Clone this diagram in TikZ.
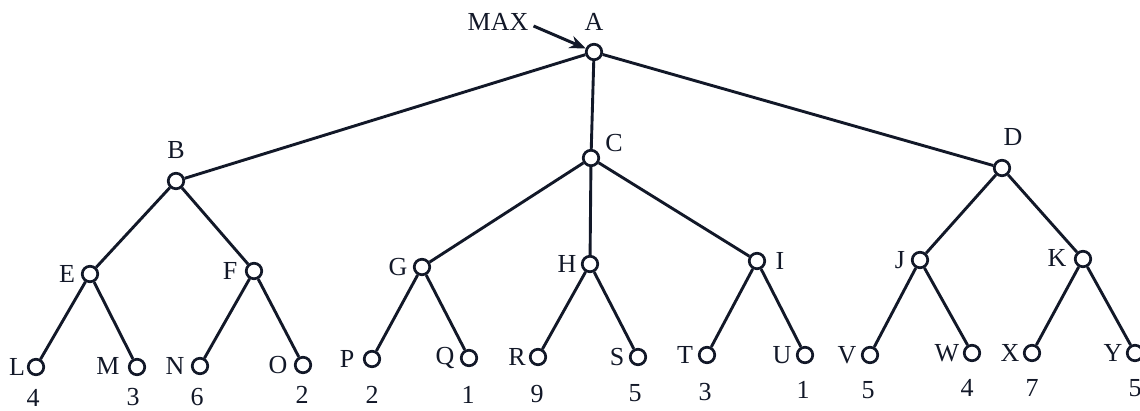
\documentclass[tikz,border=0pt]{standalone}
\usepackage{fontspec}
\setmainfont{Liberation Serif}
\usetikzlibrary{arrows.meta}
\definecolor{ink}{RGB}{18,24,40}
\begin{document}
\begin{tikzpicture}[x=1pt,y=-1pt,
  vert/.style={circle,draw=ink,fill=white,line width=2.7pt,minimum size=15.5pt,inner sep=0pt},
  lbl/.style={text=ink,font=\fontsize{26}{26}\selectfont,inner sep=0pt},
  edge/.style={draw=ink,line width=2.9pt},
  pointer/.style={draw=ink,line width=3pt,-{Stealth[length=16pt,width=13pt]}}]
\useasboundingbox (0,0) rectangle (1140,411);

% vertices of the game tree
\node[vert] (A) at (594,52) {};
\node[vert] (B) at (176,181) {};
\node[vert] (C) at (591,158) {};
\node[vert] (D) at (1002,168) {};
\node[vert] (E) at (90,274) {};
\node[vert] (F) at (254,271) {};
\node[vert] (G) at (422,267) {};
\node[vert] (H) at (590,264) {};
\node[vert] (I) at (757,261) {};
\node[vert] (J) at (920,260) {};
\node[vert] (K) at (1083,259) {};
\node[vert] (L) at (36,367) {};
\node[vert] (M) at (137,367) {};
\node[vert] (N) at (200,366) {};
\node[vert] (O) at (303,365) {};
\node[vert] (P) at (372,359) {};
\node[vert] (Q) at (469,358) {};
\node[vert] (R) at (538,357) {};
\node[vert] (S) at (638,357) {};
\node[vert] (T) at (707,355) {};
\node[vert] (U) at (805,355) {};
\node[vert] (V) at (870,355) {};
\node[vert] (W) at (972,353) {};
\node[vert] (X) at (1032,353) {};
\node[vert] (Y) at (1135,353) {};

% branches
\foreach \p/\c in {A/B,A/C,A/D,B/E,B/F,C/G,C/H,C/I,D/J,D/K,
                   E/L,E/M,F/N,F/O,G/P,G/Q,H/R,H/S,I/T,I/U,J/V,J/W,K/X,K/Y}
  \draw[edge] (\p) -- (\c);

% vertex names
\node[lbl] (tA) at (594,22) {A};
\node[lbl] (tB) at (176,150) {B};
\node[lbl] (tC) at (614,143) {C};
\node[lbl] (tD) at (1013,137) {D};
\node[lbl] (tE) at (67,274) {E};
\node[lbl] (tF) at (230,271) {F};
\node[lbl] (tG) at (398,267) {G};
\node[lbl] (tH) at (567,264) {H};
\node[lbl] (tI) at (780,261) {I};
\node[lbl] (tJ) at (900,260) {J};
\node[lbl] (tK) at (1057,258) {K};
\node[lbl] (tL) at (17,367) {L};
\node[lbl] (tM) at (108,366) {M};
\node[lbl] (tN) at (175,366) {N};
\node[lbl] (tO) at (278,365) {O};
\node[lbl] (tP) at (347,359) {P};
\node[lbl] (tQ) at (445,358) {Q};
\node[lbl] (tR) at (517,357) {R};
\node[lbl] (tS) at (617,357) {S};
\node[lbl] (tT) at (685,355) {T};
\node[lbl] (tU) at (782,355) {U};
\node[lbl] (tV) at (847,355) {V};
\node[lbl] (tW) at (947,353) {W};
\node[lbl] (tX) at (1010,353) {X};
\node[lbl] (tY) at (1113,353) {Y};

% leaf values
\node[lbl] (vL) at (33,398) {4};
\node[lbl] (vM) at (133,397) {3};
\node[lbl] (vN) at (197,397) {6};
\node[lbl] (vO) at (302,395) {2};
\node[lbl] (vP) at (372,395) {2};
\node[lbl] (vQ) at (468,395) {1};
\node[lbl] (vR) at (537,394) {9};
\node[lbl] (vS) at (635,393) {5};
\node[lbl] (vT) at (705,392) {3};
\node[lbl] (vU) at (803,390) {1};
\node[lbl] (vV) at (868,390) {5};
\node[lbl] (vW) at (967,388) {4};
\node[lbl] (vX) at (1032,388) {7};
\node[lbl] (vY) at (1135,388) {5};

% root marker
\node[lbl] (max) at (498,22) {MAX};
\draw[pointer] ([xshift=5pt,yshift=-4pt]max.east) -- (A);
\end{tikzpicture}
\end{document}
